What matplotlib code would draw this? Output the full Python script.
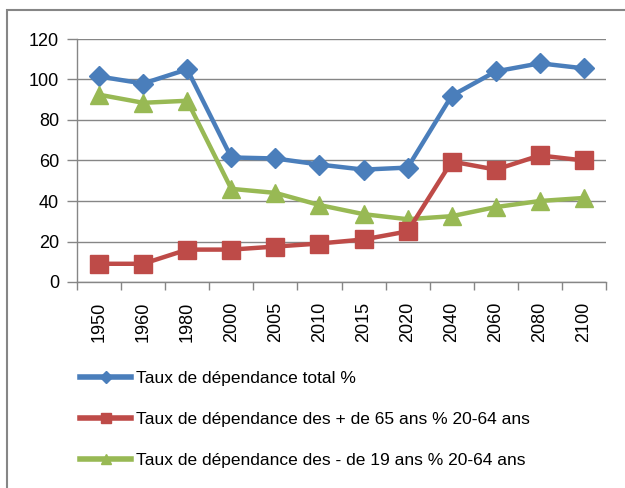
import matplotlib.pyplot as plt
from matplotlib.lines import Line2D
from matplotlib.patches import Rectangle

plt.rcParams['font.family'] = ['Liberation Sans', 'DejaVu Sans']

years = ['1950', '1960', '1980', '2000', '2005', '2010', '2015', '2020',
         '2040', '2060', '2080', '2100']
total = [101.5, 98, 105, 61.5, 61, 58, 55.5, 56.5, 92, 104, 108, 105.5]
plus65 = [9, 9, 16, 16, 17.5, 19, 21, 25, 59.5, 55.5, 62.5, 60]
moins19 = [92.5, 88.5, 89.5, 46, 44, 38, 33.5, 31, 32.5, 37, 40, 41.5]

labels = ['Taux de dépendance total %',
          'Taux de dépendance des + de 65 ans % 20-64 ans',
          'Taux de dépendance des - de 19 ans % 20-64 ans']

blue = '#4A7EBB'
red = '#BE4B48'
green = '#98B954'
grey = '#868686'

W, H = 625, 488
fig = plt.figure(figsize=(W / 100, H / 100), dpi=100)
ax = fig.add_axes([77 / W, 1 - 282 / H, (606 - 77) / W, (282 - 39) / H])

# chart frame
fig.patches.append(Rectangle((7 / W, -0.1), 1.2, 1 - 10 / H + 0.1,
                             transform=fig.transFigure, fill=False,
                             edgecolor=grey, lw=1.5))

x = list(range(len(years)))
ax.plot(x, total, color=blue, lw=3.2, marker='D', ms=10.5, zorder=3)
ax.plot(x, plus65, color=red, lw=3.2, marker='s', ms=12.5, zorder=4)
ax.plot(x, moins19, color=green, lw=3.2, marker='^', ms=12.5, zorder=3)

ax.set_xlim(-0.5, len(years) - 0.5)
ax.set_ylim(0, 120)
ax.set_yticks(range(0, 121, 20))
ax.set_xticks(x)
ax.set_xticklabels(years, rotation=90, va='top')
ax.set_xticks([i - 0.5 for i in range(len(years) + 1)], minor=True)
ax.tick_params(axis='x', which='major', length=0, pad=14, labelsize=13)
ax.tick_params(axis='x', which='minor', length=6, color=grey, width=1)
ax.tick_params(axis='y', length=7, color=grey, width=1, pad=6, labelsize=13)
ax.grid(axis='y', color=grey, lw=1)
ax.set_axisbelow(True)
for s in ['top', 'right']:
    ax.spines[s].set_visible(False)
for s in ['left', 'bottom']:
    ax.spines[s].set_color(grey)
    ax.spines[s].set_linewidth(1)

handles = [Line2D([], [], color=blue, lw=4, marker='D', ms=6),
           Line2D([], [], color=red, lw=4, marker='s', ms=7),
           Line2D([], [], color=green, lw=4, marker='^', ms=7)]
fig.legend(handles, labels, loc='upper left',
           bbox_to_anchor=(80 / W, 1 - 371 / H), frameon=False,
           fontsize=12.5, handlelength=2.94, handletextpad=0.29,
           labelspacing=1.49, borderpad=0, borderaxespad=0)

fig.savefig('out.png', dpi=100)
